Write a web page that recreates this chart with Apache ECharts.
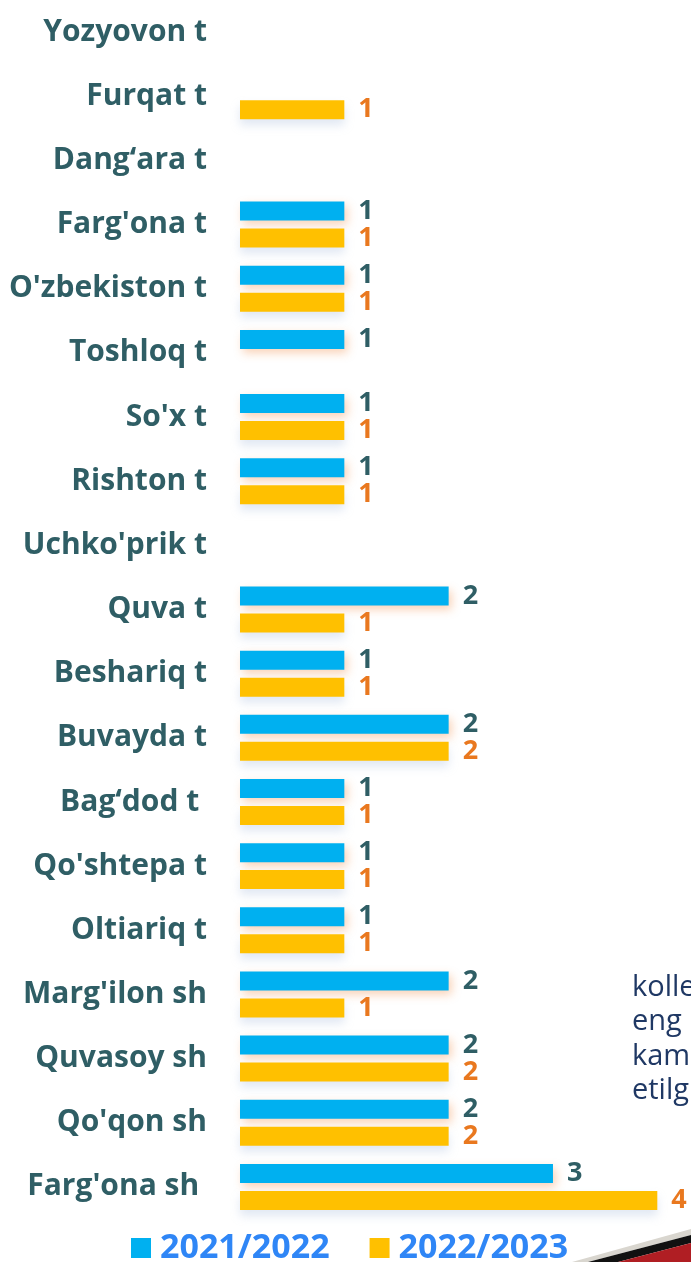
<!DOCTYPE html>
<html>
<head>
<meta charset="utf-8">
<script src="https://cdn.jsdelivr.net/npm/echarts@6/dist/echarts.min.js"></script>
<style>
html,body{margin:0;padding:0;background:#fff;}
#chart{width:691px;height:1262px;}
</style>
</head>
<body>
<div id="chart"></div>
<script>
const categories = ["Yozyovon t","Furqat t","Dang‘ara t","Farg'ona t","O'zbekiston t","Toshloq t","So'x t","Rishton t","Uchko'prik t","Quva t","Beshariq t","Buvayda t","Bag‘dod t ","Qo'shtepa t","Oltiariq t","Marg'ilon sh","Quvasoy sh","Qo'qon sh","Farg'ona sh "];
const series2122 = [null,null,null,1,1,1,1,1,null,2,1,2,1,1,1,2,2,2,3];
const series2223 = [null,1,null,1,1,null,1,1,null,1,1,2,1,1,1,1,2,2,4];
const seriesNames = ["2021/2022","2022/2023"];
const sideText = ["kolle","eng","kam","etilg"];

const chart = echarts.init(document.getElementById('chart'), null, {renderer:'canvas'});
const FONT = '"Open Sans", "Noto Sans", sans-serif';
chart.setOption({
  animation:false,
  backgroundColor:'#ffffff',
  grid:{left:240, right:33.7, top:-6, height:1225, containLabel:false},
  xAxis:{type:'value', min:0, max:4, show:false},
  yAxis:{type:'category', data:categories, inverse:true,
    axisLine:{show:false}, axisTick:{show:false}, splitLine:{show:false},
    axisLabel:{margin:33, color:'#2F5E65', fontFamily:FONT, fontWeight:'bold', fontSize:30}},
  legend:{left:126, top:1226, itemWidth:20, itemHeight:20, itemGap:40, icon:'rect',
    textStyle:{color:'#2F86F6', fontFamily:FONT, fontWeight:'bold', fontSize:34, padding:[0,0,0,4]},
    data:seriesNames},
  series:[
    {name:seriesNames[0], type:'bar', data:series2122, barWidth:19, barGap:'42%',
     itemStyle:{color:'#00B0F0', shadowColor:'rgba(237,125,49,0.35)', shadowBlur:10, shadowOffsetX:3, shadowOffsetY:4},
     label:{show:true, position:'right', distance:14, color:'#2F5E65', fontFamily:FONT, fontWeight:'bold', fontSize:27}},
    {name:seriesNames[1], type:'bar', data:series2223, barWidth:19,
     itemStyle:{color:'#FFC000', shadowColor:'rgba(170,190,220,0.35)', shadowBlur:10, shadowOffsetX:0, shadowOffsetY:6},
     label:{show:true, position:'right', distance:14, color:'#E9781F', fontFamily:FONT, fontWeight:'bold', fontSize:27}}
  ],
  graphic:[
    {type:'text', left:632, top:970, style:{text:sideText.join('\n'), fill:'#1F3864', font:'29px '+FONT, lineHeight:34.5}},
    {type:'polygon', shape:{points:[[572,1262],[691,1229],[691,1235],[588,1262]]}, style:{fill:'#D9D6CF'}, z:10},
    {type:'polygon', shape:{points:[[588,1262],[691,1235],[691,1243],[618,1262]]}, style:{fill:'#111111'}, z:10},
    {type:'polygon', shape:{points:[[618,1262],[691,1243],[691,1262]]}, style:{fill:'#B01E23'}, z:10}
  ]
});
</script>
</body>
</html>
